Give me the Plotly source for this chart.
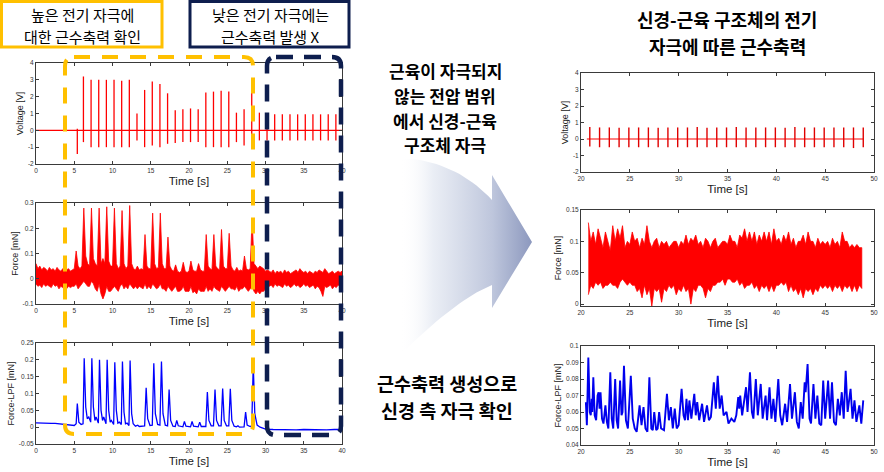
import plotly.graph_objects as go
import numpy as np

W, H = 884, 472

# ---------------- DATA ----------------
# Left: voltage spikes (time [s], top [V], bottom [V])
V_L_T = [5.4, 6.2, 7.2, 8.2, 9.2, 10.2, 11.2, 12.2,
         13.2, 14.2, 15.2, 16.2, 17.2, 18.2, 19.2, 20.2, 21.2,
         22.2, 23.2, 24.2, 25.2, 26.2, 27.2, 28.2, 29.2, 30.2,
         31.2, 32.2, 33.2, 34.2, 35.2, 36.2, 37.2, 38.2, 39.2]
V_L_TOP = [0.1, 3.2, 3.0, 3.0, 3.0, 3.0, 2.95, 3.0,
           1.0, 2.4, 2.9, 2.75, 2.2, 1.2, 1.25, 1.3, 1.25,
           2.25, 2.3, 2.35, 2.3, 1.05, 1.25, 2.8, 1.05, 1.0,
           0.95, 0.95, 0.95, 0.95, 0.95, 0.95, 0.95, 0.95, 0.95]
V_L_BOT = [-1.4, -0.7, -1.0, -1.0, -1.0, -1.0, -1.0, -1.0,
           -0.6, -1.0, -0.9, -1.0, -0.8, -0.75, -0.7, -0.7, -0.7,
           -1.0, -1.0, -1.0, -1.0, -0.7, -0.9, -1.0, -0.6, -0.6,
           -0.6, -0.6, -0.6, -0.6, -0.6, -0.6, -0.6, -0.6, -0.6]
V_L_BASE_X = [0, 40]
V_L_BASE_Y = [0, 0]

# Left: raw force, noise envelope sampled every 0.25 s from 0 s
F_L_T0, F_L_DT = 0.0, 0.25
F_L_UP = [
    0.06, 0.04, 0.05, 0.035,  0.045, 0.04, 0.03, 0.045,
    0.035, 0.04, 0.03, 0.045,  0.035, 0.03, 0.04, 0.03,
    0.035, 0.04, 0.03, 0.035,  0.04, 0.11, 0.05, 0.04,
    0.05, 0.28, 0.09, 0.06,  0.05, 0.28, 0.08, 0.06,
    0.05, 0.28, 0.06, 0.08,  0.06, 0.285, 0.07, 0.05,
    0.05, 0.28, 0.06, 0.04,  0.05, 0.27, 0.06, 0.04,
    0.05, 0.29, 0.06, 0.04,  0.035, 0.05, 0.035, 0.04,
    0.035, 0.175, 0.05, 0.04,  0.04, 0.26, 0.06, 0.04,
    0.045, 0.26, 0.06, 0.04,  0.04, 0.165, 0.05, 0.035,
    0.03, 0.055, 0.03, 0.025,  0.03, 0.065, 0.03, 0.025,
    0.03, 0.07, 0.035, 0.03,  0.03, 0.06, 0.035, 0.03,
    0.03, 0.175, 0.05, 0.04,  0.035, 0.175, 0.05, 0.04,
    0.035, 0.195, 0.05, 0.04,  0.04, 0.18, 0.05, 0.035,
    0.03, 0.045, 0.03, 0.035,  0.03, 0.09, 0.04, 0.035,
    0.04, 0.24, 0.06, 0.05,  0.04, 0.05, 0.045, 0.04,
    0.03, 0.035, 0.03, 0.025,  0.035, 0.02, 0.03, 0.025,
    0.03, 0.02, 0.035, 0.025,  0.03, 0.02, 0.025, 0.03,
    0.035, 0.025, 0.04, 0.03,  0.025, 0.03, 0.02, 0.03,
    0.025, 0.02, 0.03, 0.025,  0.035, 0.03, 0.025, 0.04,
    0.03, 0.02, 0.025, 0.03,  0.02, 0.025, 0.03, 0.025,
    0.03]
F_L_LO = [
    -0.02, -0.03, -0.025, -0.035,  -0.02, -0.03, -0.025, -0.03,
    -0.035, -0.02, -0.03, -0.025,  -0.04, -0.03, -0.035, -0.03,
    -0.04, -0.03, -0.035, -0.03,  -0.03, -0.02, -0.04, -0.03,
    -0.02, -0.01, -0.02, -0.03,  -0.03, -0.01, -0.02, -0.04,
    -0.05, -0.02, -0.06, -0.08,  -0.06, -0.03, -0.05, -0.05,
    -0.04, -0.03, -0.04, -0.05,  -0.03, -0.02, -0.04, -0.03,
    -0.04, -0.02, -0.03, -0.04,  -0.03, -0.04, -0.03, -0.035,
    -0.04, -0.02, -0.04, -0.03,  -0.04, -0.02, -0.03, -0.04,
    -0.035, -0.02, -0.04, -0.04,  -0.05, -0.03, -0.04, -0.05,
    -0.04, -0.03, -0.05, -0.05,  -0.045, -0.03, -0.05, -0.05,
    -0.05, -0.03, -0.055, -0.05,  -0.06, -0.04, -0.05, -0.05,
    -0.05, -0.03, -0.05, -0.04,  -0.05, -0.03, -0.04, -0.045,
    -0.05, -0.03, -0.04, -0.05,  -0.04, -0.03, -0.04, -0.04,
    -0.045, -0.03, -0.05, -0.04,  -0.04, -0.03, -0.04, -0.05,
    -0.04, -0.03, -0.05, -0.06,  -0.05, -0.06, -0.05, -0.05,
    -0.04, -0.03, -0.03, -0.025,  -0.035, -0.02, -0.03, -0.025,
    -0.03, -0.035, -0.02, -0.03,  -0.025, -0.035, -0.03, -0.02,
    -0.03, -0.025, -0.035, -0.03,  -0.02, -0.03, -0.025, -0.035,
    -0.03, -0.025, -0.04, -0.03,  -0.035, -0.05, -0.07, -0.03,
    -0.035, -0.03, -0.025, -0.04,  -0.03, -0.035, -0.025, -0.03,
    -0.03]

# Left: low-pass filtered force
LPF_L_T = [0, 0.5, 1, 1.5, 2, 2.5, 3, 3.5, 4, 4.5, 5.0, 5.25, 5.4, 5.6, 5.9,
           6.15, 6.3, 6.5, 6.7, 6.9, 7.15, 7.3, 7.5, 7.7, 7.85, 8.15, 8.3, 8.5, 8.7,
           8.85, 9.0, 9.15, 9.3, 9.5, 9.7, 9.85, 10.15, 10.3, 10.5, 10.7, 10.9,
           11.15, 11.3, 11.5, 11.7, 11.9, 12.15, 12.3, 12.5, 12.7, 13.0, 13.3, 13.5,
           14.0, 14.2, 14.4, 14.6, 14.9, 15.2, 15.4, 15.6, 15.9, 16.2, 16.4, 16.6,
           16.9, 17.2, 17.4, 17.6, 17.9, 18.2, 18.4, 18.6, 19.2, 19.4, 19.6, 20.2,
           20.4, 20.6, 21.2, 21.4, 21.6, 22.2, 22.4, 22.6, 22.9, 23.2, 23.4, 23.6,
           23.9, 24.2, 24.4, 24.6, 24.9, 25.2, 25.4, 25.6, 25.9, 26.2, 26.4, 26.6,
           27.2, 27.4, 27.6, 28.0, 28.2, 28.4, 28.6, 28.9, 29.3, 29.7, 30.0, 31, 32,
           33, 34, 35, 36, 37, 38, 39, 40]
LPF_L_V = [0.013, 0.012, 0.013, 0.012, 0.011, 0.011, 0.01, 0.009, 0.008, 0.006, 0.005,
           0.01, 0.07, 0.015, 0.008,
           0.01, 0.205, 0.06, 0.025, 0.03, 0.015, 0.205, 0.06, 0.02, 0.03, 0.012, 0.2,
           0.05, 0.02, 0.03, 0.022, 0.01, 0.2, 0.05, 0.015, 0.02, 0.008, 0.193, 0.05,
           0.012, 0.015, 0.008, 0.195, 0.045, 0.01, 0.012, 0.005, 0.198, 0.04, 0.01,
           0.003, 0.006, 0.002,
           0.002, 0.004, 0.117, 0.025, 0.005, 0.006, 0.19, 0.04, 0.008, 0.006, 0.195,
           0.04, 0.006, 0.004, 0.112, 0.02, 0.003, 0.002, 0.02, 0.004, 0.001, 0.017,
           0.003, 0.001, 0.017, 0.003, 0.001, 0.015, 0.002, 0.002, 0.104, 0.02, 0.004,
           0.004, 0.112, 0.02, 0.004, 0.004, 0.115, 0.02, 0.004, 0.004, 0.114, 0.02,
           0.003, 0.001, 0.004, 0.0, 0.001, 0.045, 0.006, 0.002, 0.004, 0.185, 0.04,
           0.006, 0.0, -0.004, -0.006, -0.007, -0.008, -0.007, -0.008, -0.007, -0.008,
           -0.007, -0.008, -0.007, -0.007]

# Right: voltage spikes
V_R_T = [20.9, 21.9, 22.9, 23.9, 24.9, 25.9, 26.9, 27.9, 28.9, 29.9,
         30.9, 31.9, 32.9, 33.9, 34.9, 35.9, 36.9, 37.9, 38.9, 39.9,
         40.9, 41.9, 42.9, 43.9, 44.9, 45.9, 46.9, 47.9, 48.9]
V_R_TOP = [0.72, 0.7, 0.7, 0.68, 0.7, 0.7, 0.7, 0.68, 0.7, 0.7,
           0.7, 0.72, 0.68, 0.7, 0.7, 0.72, 0.7, 0.7, 0.7, 0.7,
           0.68, 0.72, 0.7, 0.7, 0.7, 0.7, 0.7, 0.7, 0.7]
V_R_BOT = [-0.45, -0.5, -0.5, -0.5, -0.5, -0.5, -0.5, -0.5, -0.5, -0.5,
           -0.5, -0.5, -0.5, -0.5, -0.5, -0.5, -0.5, -0.5, -0.5, -0.5,
           -0.5, -0.5, -0.5, -0.5, -0.5, -0.5, -0.5, -0.55, -0.5]
V_R_BASE_X = [20.6, 48.95]
V_R_BASE_Y = [0, 0]

# Right: raw force, noise envelope sampled every 0.25 s from 20.75 s
F_R_T0, F_R_DT = 20.75, 0.25
F_R_UP = [
    0.13, 0.1, 0.115, 0.095,  0.12, 0.105, 0.09, 0.115,
    0.1, 0.085, 0.125, 0.1,  0.12, 0.105, 0.125, 0.09,
    0.10, 0.095, 0.115, 0.1,  0.105, 0.09, 0.105, 0.095,
    0.125, 0.1, 0.09, 0.1,  0.105, 0.09, 0.1, 0.095,
    0.10, 0.09, 0.095, 0.1,  0.10, 0.09, 0.10, 0.095,
    0.11, 0.095, 0.105, 0.1,  0.11, 0.095, 0.10, 0.09,
    0.105, 0.1, 0.09, 0.1,  0.105, 0.09, 0.095, 0.1,
    0.10, 0.095, 0.11, 0.1,  0.10, 0.09, 0.11, 0.105,
    0.12, 0.1, 0.115, 0.1,  0.115, 0.095, 0.11, 0.1,
    0.115, 0.1, 0.115, 0.095,  0.12, 0.1, 0.105, 0.095,
    0.11, 0.1, 0.115, 0.095,  0.105, 0.09, 0.10, 0.1,
    0.11, 0.095, 0.115, 0.1,  0.10, 0.09, 0.105, 0.095,
    0.10, 0.095, 0.10, 0.09,  0.105, 0.095, 0.10, 0.09,
    0.115, 0.1, 0.10, 0.09,  0.095, 0.09, 0.095, 0.09,
    0.09]
F_R_LO = [
    0.015, 0.03, 0.025, 0.035,  0.03, 0.035, 0.025, 0.03,
    0.03, 0.035, 0.03, 0.03,  0.025, 0.035, 0.04, 0.035,
    0.03, 0.035, 0.03, 0.03,  0.02, 0.025, 0.01, 0.03,
    0.015, 0.025, -0.003, 0.025,  0.02, 0.025, 0.003, 0.025,
    0.02, 0.03, 0.025, 0.03,  0.015, 0.025, 0.02, 0.03,
    0.02, 0.025, 0.0, 0.025,  0.02, 0.03, 0.03, 0.025,
    0.01, 0.025, 0.02, 0.03,  0.03, 0.035, 0.035, 0.04,
    0.03, 0.04, 0.04, 0.035,  0.035, 0.04, 0.03, 0.035,
    0.025, 0.03, 0.03, 0.035,  0.025, 0.03, 0.02, 0.03,
    0.025, 0.03, 0.02, 0.03,  0.02, 0.03, 0.03, 0.035,
    0.03, 0.035, 0.02, 0.03,  0.02, 0.025, 0.015, 0.025,
    0.01, 0.025, 0.02, 0.025,  0.015, 0.025, 0.02, 0.03,
    0.025, 0.03, 0.025, 0.03,  0.02, 0.03, 0.025, 0.03,
    0.02, 0.03, 0.025, 0.03,  0.02, 0.03, 0.02, 0.03,
    0.025]

# Right: low-pass filtered force
LPF_R_T = [20.5, 20.6, 20.75, 20.9, 21.0, 21.1, 21.15, 21.26, 21.4, 21.55, 21.7, 21.8,
           21.9, 22.0, 22.15, 22.3, 22.5, 22.65, 22.8, 23.0, 23.15, 23.3, 23.5, 23.65,
           23.8, 24.0, 24.15, 24.25, 24.4, 24.6, 24.8, 25.1, 25.3, 25.5, 25.7, 26.0,
           26.2, 26.4, 26.6, 26.8, 27.0, 27.2, 27.35, 27.5, 27.7, 27.85, 28.0, 28.2,
           28.5, 28.8, 29.0, 29.2, 29.4, 29.6, 29.8, 30.0, 30.3, 30.5, 30.65, 30.8,
           30.95, 31.1, 31.3, 31.6, 31.75, 31.9, 32.1, 32.4, 32.6, 32.9, 33.1, 33.3,
           33.6, 33.8, 34.0, 34.2, 34.4, 34.6, 34.9, 35.1, 35.4, 35.7, 35.9, 36.1,
           36.2, 36.3, 36.5, 36.9, 37.05, 37.3, 37.5, 37.65, 37.9, 38.1, 38.4, 38.6,
           38.9, 39.05, 39.3, 39.5, 39.7, 39.9, 40.2, 40.4, 40.6, 40.9, 41.1, 41.4,
           41.6, 41.9, 42.1, 42.3, 42.5, 42.7, 42.9, 43.0, 43.2, 43.4, 43.55, 43.8,
           44.0, 44.2, 44.4, 44.6, 44.8, 45.0, 45.3, 45.5, 45.7, 45.9, 46.1, 46.3,
           46.5, 46.7, 46.9, 47.1, 47.3, 47.6, 47.8, 48.0, 48.2, 48.5, 48.7, 48.9]
LPF_R_V = [0.066, 0.052, 0.093, 0.06, 0.058, 0.068, 0.06, 0.081, 0.058, 0.055, 0.07, 0.072,
           0.062, 0.072, 0.056, 0.053, 0.064, 0.054, 0.05, 0.084, 0.056, 0.05, 0.080, 0.055,
           0.05, 0.079, 0.058, 0.06, 0.088, 0.055, 0.05, 0.082, 0.056, 0.05, 0.048, 0.064,
           0.052, 0.063, 0.05, 0.048, 0.081, 0.05, 0.049, 0.06, 0.049, 0.05, 0.06, 0.05,
           0.049, 0.071, 0.055, 0.063, 0.05, 0.062, 0.05, 0.052, 0.074, 0.058, 0.055, 0.068,
           0.055, 0.067, 0.056, 0.071, 0.058, 0.066, 0.055, 0.065, 0.054, 0.064, 0.055, 0.057,
           0.078, 0.062, 0.082, 0.062, 0.07, 0.058, 0.06, 0.053, 0.056, 0.054, 0.058, 0.069,
           0.062, 0.07, 0.058, 0.075, 0.06, 0.084, 0.06, 0.056, 0.080, 0.058, 0.077, 0.056,
           0.07, 0.055, 0.075, 0.056, 0.068, 0.054, 0.08, 0.058, 0.052, 0.065, 0.054, 0.077,
           0.056, 0.072, 0.054, 0.05, 0.066, 0.056, 0.078, 0.072, 0.089, 0.056, 0.053, 0.077,
           0.056, 0.07, 0.053, 0.052, 0.079, 0.056, 0.079, 0.056, 0.078, 0.054, 0.052, 0.068,
           0.058, 0.072, 0.056, 0.085, 0.06, 0.074, 0.056, 0.067, 0.054, 0.064, 0.053, 0.067]

# Axis ticks
X_L_TICKS = [0, 5, 10, 15, 20, 25, 30, 35, 40]
X_R_TICKS = [20, 25, 30, 35, 40, 45, 50]
V_TICKS = [-2, -1, 0, 1, 2, 3, 4]
F_L_TICKS = [-0.1, 0, 0.1, 0.2, 0.3]
F_L_TICKTXT = ["-0.1", "0", "0.1", "0.2", "0.3"]
LPF_L_TICKS = [-0.05, 0, 0.05, 0.1, 0.15, 0.2, 0.25]
LPF_L_TICKTXT = ["-0.05", "0", "0.05", "0.1", "0.15", "0.2", "0.25"]
F_R_TICKS = [0, 0.05, 0.1, 0.15]
F_R_TICKTXT = ["0", "0.05", "0.1", "0.15"]
LPF_R_TICKS = [0.04, 0.05, 0.06, 0.07, 0.08, 0.09, 0.1]
LPF_R_TICKTXT = ["0.04", "0.05", "0.06", "0.07", "0.08", "0.09", "0.1"]

# ---------------- HELPERS ----------------
def px(x):
    return x / W

def py(y):
    return 1 - y / H

def spikes(ts, tops, bots):
    xs, ys = [], []
    for t, a, b in zip(ts, tops, bots):
        xs += [t, t, None]
        ys += [b, a, None]
    return xs, ys

def band(t0, dt, up, lo):
    n = len(up)
    ts = [t0 + dt * i for i in range(n)]
    return ts + ts[::-1], list(up) + list(lo)[::-1]

RED = "#FF0000"
BLUE = "#0000FF"
AXC = "#3a3a3a"
TICKF = dict(family="Liberation Sans, Arial", size=6.5, color="#333333")
FONT_KR = "Noto Sans CJK KR"

fig = go.Figure()

# Panel 1: left voltage
sx, sy = spikes(V_L_T, V_L_TOP, V_L_BOT)
fig.add_trace(go.Scatter(x=V_L_BASE_X, y=V_L_BASE_Y, mode="lines", line=dict(color=RED, width=1.2), xaxis="x", yaxis="y", showlegend=False))
fig.add_trace(go.Scatter(x=sx, y=sy, mode="lines", line=dict(color=RED, width=1.3), xaxis="x", yaxis="y", showlegend=False))

# Panel 2: left force
bx, by = band(F_L_T0, F_L_DT, F_L_UP, F_L_LO)
fig.add_trace(go.Scatter(x=bx, y=by, mode="lines", fill="toself", fillcolor=RED, line=dict(color=RED, width=0.8), xaxis="x2", yaxis="y2", showlegend=False))

# Panel 3: left LPF
fig.add_trace(go.Scatter(x=LPF_L_T, y=LPF_L_V, mode="lines", line=dict(color=BLUE, width=1.3), xaxis="x3", yaxis="y3", showlegend=False))

# Panel 4: right voltage
sx, sy = spikes(V_R_T, V_R_TOP, V_R_BOT)
fig.add_trace(go.Scatter(x=V_R_BASE_X, y=V_R_BASE_Y, mode="lines", line=dict(color=RED, width=1.2), xaxis="x4", yaxis="y4", showlegend=False))
fig.add_trace(go.Scatter(x=sx, y=sy, mode="lines", line=dict(color="#E00000", width=1.4), xaxis="x4", yaxis="y4", showlegend=False))

# Panel 5: right force
bx, by = band(F_R_T0, F_R_DT, F_R_UP, F_R_LO)
fig.add_trace(go.Scatter(x=bx, y=by, mode="lines", fill="toself", fillcolor=RED, line=dict(color=RED, width=0.8), xaxis="x5", yaxis="y5", showlegend=False))

# Panel 6: right LPF
fig.add_trace(go.Scatter(x=LPF_R_T, y=LPF_R_V, mode="lines", line=dict(color="#0000EE", width=1.9), xaxis="x6", yaxis="y6", showlegend=False))

# Arrow (decoration) on an overlay pixel axis
def qbez(p0, p1, p2, n=20):
    pts = []
    for i in range(n + 1):
        s = i / n
        x = (1 - s) ** 2 * p0[0] + 2 * (1 - s) * s * p1[0] + s ** 2 * p2[0]
        y = (1 - s) ** 2 * p0[1] + 2 * (1 - s) * s * p1[1] + s ** 2 * p2[1]
        pts.append((x, y))
    return pts

arrow = qbez((400, 158), (455, 160), (492, 200))
arrow += [(492, 175), (532, 242), (492, 308), (492, 285)]
arrow += qbez((492, 285), (455, 300), (400, 355))
arrow += [(400, 158)]
fig.add_trace(go.Scatter(
    x=[p[0] for p in arrow], y=[p[1] for p in arrow], mode="lines",
    fill="toself", line=dict(width=0, color="rgba(0,0,0,0)"),
    fillgradient=dict(type="horizontal", start=400, stop=532,
                      colorscale=[[0, "rgba(255,255,255,0)"], [0.25, "rgba(232,236,244,0.9)"],
                                  [0.7, "rgb(190,198,220)"], [1, "rgb(140,152,190)"]]),
    xaxis="x7", yaxis="y7", showlegend=False, hoverinfo="skip"))

# ---------------- LAYOUT ----------------
def xax(dom, rng, ticks, anchor):
    return dict(domain=dom, range=rng, tickvals=ticks, ticktext=[str(t) for t in ticks],
                ticks="inside", ticklen=3, tickcolor=AXC, showline=True, linecolor=AXC, linewidth=1,
                mirror="ticks", showgrid=False, zeroline=False, tickfont=TICKF, anchor=anchor,
                automargin=False,
                title=dict(text="Time [s]", font=dict(family="Liberation Sans, Arial", size=11.5, color="#222"), standoff=4))

def yax(dom, rng, ticks, txt, title, anchor):
    return dict(domain=dom, range=rng, tickvals=ticks, ticktext=txt,
                ticks="inside", ticklen=3, tickcolor=AXC, showline=True, linecolor=AXC, linewidth=1,
                mirror="ticks", showgrid=False, zeroline=False, tickfont=TICKF, anchor=anchor,
                automargin=False,
                title=dict(text=title, font=dict(family="Liberation Sans, Arial", size=9, color="#222"), standoff=2))

XL = [px(36), px(342)]
XR = [px(581), px(874)]
D1 = [py(164), py(63)]
D2 = [py(304), py(203)]
D3 = [py(444), py(343)]
D4 = [py(172), py(73)]
D5 = [py(306), py(210)]
D6 = [py(445), py(346)]

layout = dict(
    width=W, height=H, margin=dict(l=0, r=0, t=0, b=0),
    paper_bgcolor="white", plot_bgcolor="rgba(0,0,0,0)", showlegend=False,
    xaxis=xax(XL, [0, 40], X_L_TICKS, "y"),
    yaxis=yax(D1, [-2, 4], V_TICKS, [str(v) for v in V_TICKS], "Voltage [V]", "x"),
    xaxis2=xax(XL, [0, 40], X_L_TICKS, "y2"),
    yaxis2=yax(D2, [-0.1, 0.3], F_L_TICKS, F_L_TICKTXT, "Force [mN]", "x2"),
    xaxis3=xax(XL, [0, 40], X_L_TICKS, "y3"),
    yaxis3=yax(D3, [-0.05, 0.25], LPF_L_TICKS, LPF_L_TICKTXT, "Force-LPF [mN]", "x3"),
    xaxis4=xax(XR, [20, 50], X_R_TICKS, "y4"),
    yaxis4=yax(D4, [-2, 4], V_TICKS, [str(v) for v in V_TICKS], "Voltage [V]", "x4"),
    xaxis5=xax(XR, [20, 50], X_R_TICKS, "y5"),
    yaxis5=yax(D5, [-0.003, 0.15], F_R_TICKS, F_R_TICKTXT, "Force [mN]", "x5"),
    xaxis6=xax(XR, [20, 50], X_R_TICKS, "y6"),
    yaxis6=yax(D6, [0.04, 0.1], LPF_R_TICKS, LPF_R_TICKTXT, "Force-LPF [mN]", "x6"),
    xaxis7=dict(domain=[0, 1], range=[0, W], visible=False, anchor="y7", fixedrange=True),
    yaxis7=dict(domain=[0, 1], range=[H, 0], visible=False, anchor="x7", fixedrange=True),
)
fig.update_layout(**layout)

# ---------------- SHAPES ----------------
YEL = "#FFC000"
NAVY = "#0E1E4E"

def rrect(x0, y0, x1, y1, r):
    # rounded rectangle path in paper coords (input pixels)
    return (f"M {px(x0 + r)},{py(y0)} L {px(x1 - r)},{py(y0)} Q {px(x1)},{py(y0)} {px(x1)},{py(y0 + r)} "
            f"L {px(x1)},{py(y1 - r)} Q {px(x1)},{py(y1)} {px(x1 - r)},{py(y1)} "
            f"L {px(x0 + r)},{py(y1)} Q {px(x0)},{py(y1)} {px(x0)},{py(y1 - r)} "
            f"L {px(x0)},{py(y0 + r)} Q {px(x0)},{py(y0)} {px(x0 + r)},{py(y0)} Z")

shapes = [
    dict(type="rect", xref="paper", yref="paper", x0=px(1.5), x1=px(162), y0=py(47), y1=py(1.5),
         line=dict(color=YEL, width=3)),
    dict(type="rect", xref="paper", yref="paper", x0=px(190), x1=px(349), y0=py(47), y1=py(1.5),
         line=dict(color=NAVY, width=3)),
    dict(type="path", xref="paper", yref="paper", path=rrect(65, 57, 253, 434, 9),
         line=dict(color=YEL, width=4, dash="16px,12px")),
    dict(type="path", xref="paper", yref="paper", path=rrect(267, 57, 341, 435, 9),
         line=dict(color=NAVY, width=4.5, dash="17px,11px")),
]
fig.update_layout(shapes=shapes)

# ---------------- ANNOTATIONS ----------------
def ann(text, x, y, size, bold=False, color="#000"):
    return dict(text=f"<b>{text}</b>" if bold else text, x=px(x), y=py(y), xref="paper", yref="paper",
                showarrow=False, xanchor="center", yanchor="middle", align="center",
                font=dict(family=FONT_KR, size=size, color=color))

annotations = [
    ann("높은 전기 자극에", 82, 14, 15),
    ann("대한 근수축력 확인", 82, 36, 15),
    ann("낮은 전기 자극에는", 270, 14, 15),
    ann("근수축력 발생 X", 270, 36, 15),
    ann("근육이 자극되지", 445, 70, 17, bold=True),
    ann("않는 전압 범위", 445, 95, 17, bold=True),
    ann("에서 신경-근육", 445, 120, 17, bold=True),
    ann("구조체 자극", 445, 145, 17, bold=True),
    ann("근수축력 생성으로", 447, 383, 18.5, bold=True),
    ann("신경 측 자극 확인", 447, 410, 18.5, bold=True),
    ann("신경-근육 구조체의 전기", 727, 19, 18, bold=True),
    ann("자극에 따른 근수축력", 727, 46, 18, bold=True),
]
fig.update_layout(annotations=annotations)

fig.write_html("out.html")
